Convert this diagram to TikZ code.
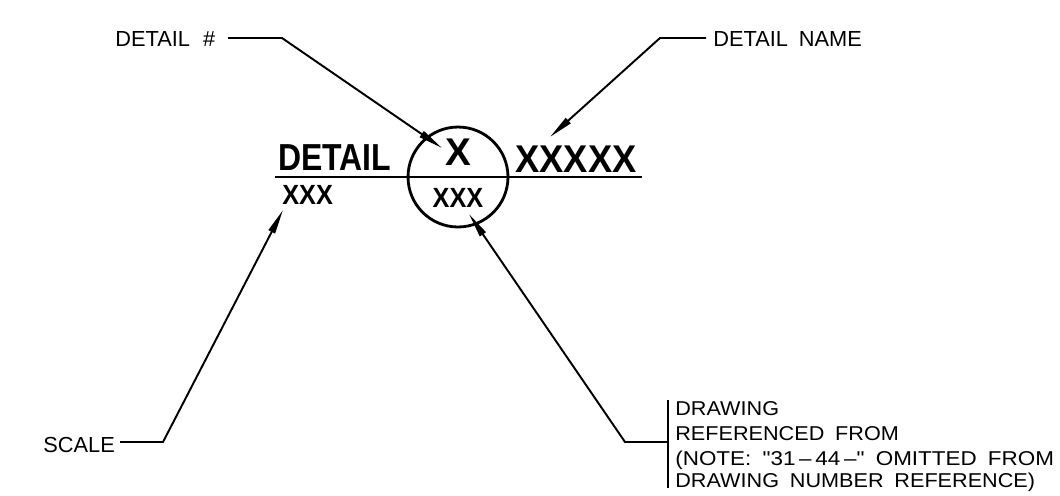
\documentclass[tikz,border=0pt]{standalone}
\usepackage{fontspec}
\setmainfont{Liberation Sans}
\newfontfamily\cad[WordSpace=1.8]{Liberation Sans}
\usetikzlibrary{arrows.meta}
\begin{document}
\begin{tikzpicture}[x=0.02cm,y=-0.02cm,
  lbl/.style={inner sep=0pt,font=\cad\fontsize{12.4}{14}\selectfont},
  sm/.style={inner sep=0pt,font=\cad\fontsize{11.4}{14}\selectfont},
  big/.style={inner sep=0pt,font=\bfseries\fontsize{22}{24}\selectfont},
  med/.style={inner sep=0pt,font=\bfseries\fontsize{15.8}{18}\selectfont},
  leader/.style={line width=1.1pt,-{Triangle[length=14pt,width=4pt]}},
  thin/.style={line width=1.1pt},
  heavy/.style={line width=1.6pt}]
\useasboundingbox (0,0) rectangle (1060,495);
\clip (0,0) rectangle (1060,495);

% labels
\node[lbl,anchor=base west] (detnum) at (115,46) {DETAIL\hspace{0.6em}\#};
\node[lbl,anchor=base west] (detname) at (713,46) {DETAIL NAME};
\node[lbl,anchor=base west] (scale) at (43,452) {SCALE};
\node[sm,anchor=base west] (dr1) at (675,415) {\scalebox{1.08}[1]{DRAWING}};
\node[sm,anchor=base west] (dr2) at (675,440) {\scalebox{1.08}[1]{REFERENCED FROM}};
\node[sm,anchor=base west] (dr3) at (675,465) {\scalebox{1.12}[1]{(NOTE: "31\,\textendash\,44\,\textendash" OMITTED FROM}};
\node[sm,anchor=base west] (dr4) at (675,487) {\scalebox{1.08}[1]{DRAWING NUMBER REFERENCE)}};

% title block
\node[circle,draw,line width=1.6pt,minimum size=2cm,inner sep=0pt] (circ) at (458,177) {};
\coordinate (lineL) at (275,177);
\coordinate (lineR) at (642,177);
\draw[heavy] (lineL) -- (lineR);
\node[big,anchor=base west,font=\bfseries\fontsize{21.4}{24}\selectfont] (dtitle) at (278,170) {\scalebox{0.85}[1]{DETAIL}};
\node[big,anchor=base] (dnum) at (458,165) {X};
\node[big,anchor=base west] (dname) at (515,172) {\scalebox{0.94}[1]{XXXXX}};
\node[med,anchor=base west] (dscale) at (282,204) {\scalebox{0.91}[1]{XXX}};
\node[med,anchor=base] (dref) at (458,207) {\scalebox{0.91}[1]{XXX}};

% leader coordinates
\coordinate (a0) at (228,38);
\coordinate (a1) at (282,38);
\coordinate (a2) at (442,148);
\coordinate (b0) at (706,38);
\coordinate (b1) at (660,38);
\coordinate (b2) at (550,137);
\coordinate (c0) at (120,442);
\coordinate (c1) at (163,442);
\coordinate (c2) at (283,210);
\coordinate (d0) at (668,442);
\coordinate (d1) at (625,442);
\coordinate (d2) at (469,214);
\coordinate (barT) at (668,400);
\coordinate (barB) at (668,488);

\draw[leader] (a0) -- (a1) -- (a2);
\draw[leader] (b0) -- (b1) -- (b2);
\draw[leader] (c0) -- (c1) -- (c2);
\draw[leader] (d0) -- (d1) -- (d2);
\draw[thin] (barT) -- (barB);
\end{tikzpicture}
\end{document}
